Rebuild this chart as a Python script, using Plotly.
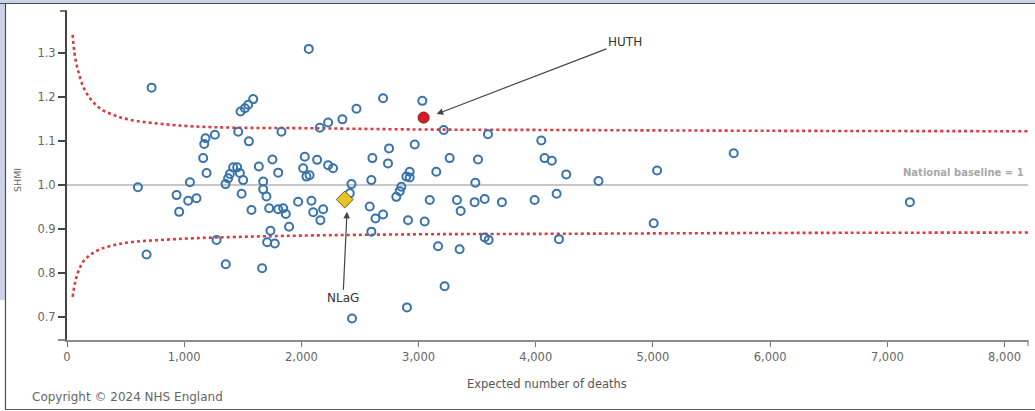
import plotly.graph_objects as go

# Trust-level SHMI against expected number of deaths
expected_deaths = [
    605, 722, 679, 935, 957, 1034, 1049, 1105, 1162, 1171,
    1182, 1262, 1191, 1276, 1353, 1355, 1375, 1390, 1418, 1452,
    1475, 1503, 1461, 1481, 1518, 1546, 1589, 1552, 1490, 1574,
    1637, 1674, 1674, 1702, 1725, 1753, 1802, 1802, 1845, 1867,
    1830, 1895, 1736, 1708, 1773, 1665, 1972, 2086, 2101, 2186,
    2162, 2015, 2029, 2043, 2070, 2063, 2134, 2157, 2228, 2228,
    2270, 2350, 2470, 2427, 2413, 2432, 2597, 2606, 2583, 2632,
    2697, 2597, 2697, 2739, 2748, 2810, 2839, 2853, 2896, 2924,
    2924, 2910, 2901, 2967, 3032, 3052, 3095, 3151, 3166, 3214,
    3222, 3265, 3327, 3359, 3350, 3478, 3484, 3507, 3564, 3564,
    3598, 3592, 3711, 3990, 4047, 4075, 4137, 4178, 4198, 4260,
    4535, 5006, 5035, 5689, 7192,
]
shmi = [
    0.995, 1.221, 0.842, 0.977, 0.939, 0.964, 1.006, 0.970, 1.061, 1.093,
    1.106, 1.114, 1.027, 0.875, 1.002, 0.820, 1.015, 1.025, 1.040, 1.040,
    1.027, 1.011, 1.121, 1.167, 1.174, 1.182, 1.195, 1.099, 0.980, 0.943,
    1.042, 1.008, 0.990, 0.974, 0.947, 1.058, 1.028, 0.945, 0.947, 0.934,
    1.121, 0.905, 0.896, 0.870, 0.867, 0.811, 0.962, 0.964, 0.938, 0.945,
    0.920, 1.038, 1.064, 1.019, 1.022, 1.309, 1.057, 1.130, 1.142, 1.045,
    1.038, 1.149, 1.173, 1.002, 0.981, 0.697, 1.011, 1.061, 0.951, 0.924,
    0.933, 0.894, 1.197, 1.049, 1.083, 0.973, 0.986, 0.996, 1.019, 1.030,
    1.017, 0.920, 0.722, 1.092, 1.191, 0.917, 0.966, 1.030, 0.861, 1.125,
    0.770, 1.061, 0.966, 0.941, 0.854, 0.961, 1.005, 1.058, 0.968, 0.881,
    0.875, 1.115, 0.961, 0.966, 1.101, 1.061, 1.055, 0.980, 0.877, 1.024,
    1.009, 0.913, 1.033, 1.072, 0.961,
]

# Highlighted trusts
huth_expected, huth_shmi = 3043, 1.153
nlag_expected, nlag_shmi = 2370, 0.967

# 95% control limits (overdispersed funnel)
limit_expected = [48, 68, 96, 139, 196, 281, 395, 537, 793, 1077, 1447, 1990, 3000, 4000, 6000, 8200]
upper_limit = [1.341, 1.292, 1.258, 1.223, 1.197, 1.174, 1.159, 1.148, 1.139, 1.133, 1.130, 1.129, 1.126, 1.125, 1.123, 1.122]
lower_limit = [0.746, 0.777, 0.803, 0.826, 0.841, 0.854, 0.863, 0.870, 0.875, 0.879, 0.882, 0.885, 0.888, 0.889, 0.891, 0.892]

baseline = 1.0
x_ticks = [0, 1000, 2000, 3000, 4000, 5000, 6000, 7000, 8000]
x_tick_labels = ["0", "1,000", "2,000", "3,000", "4,000", "5,000", "6,000", "7,000", "8,000"]
y_ticks = [0.7, 0.8, 0.9, 1.0, 1.1, 1.2, 1.3]
y_tick_labels = ["0.7", "0.8", "0.9", "1.0", "1.1", "1.2", "1.3"]

W, H = 1035, 411
ML, MR, MT, MB = 67, 7, 11, 71
PW, PH = W - ML - MR, H - MT - MB


def px(x):
    return (x - ML) / PW


def py(y):
    return (H - MB - y) / PH


FONT = "DejaVu Sans, Liberation Sans, Arial, sans-serif"
LIMIT_COLOR = "#dd3a3f"

fig = go.Figure()

for ys in (upper_limit, lower_limit):
    fig.add_trace(go.Scatter(
        x=limit_expected, y=ys, mode="lines", line_shape="spline",
        line=dict(color=LIMIT_COLOR, width=2.6, dash="dot"),
        hoverinfo="skip", showlegend=False,
    ))

fig.add_trace(go.Scatter(
    x=expected_deaths, y=shmi, mode="markers",
    marker=dict(symbol="circle-open", size=8, color="#3873ad", line=dict(width=2, color="#3873ad")),
    showlegend=False,
))

fig.add_trace(go.Scatter(
    x=[huth_expected], y=[huth_shmi], mode="markers",
    marker=dict(symbol="circle", size=11, color="#d71d24", line=dict(width=1, color="#8a1015")),
    showlegend=False,
))
fig.add_trace(go.Scatter(
    x=[nlag_expected], y=[nlag_shmi], mode="markers",
    marker=dict(symbol="diamond", size=13, color="#e9c227", line=dict(width=1, color="#6f5d1a")),
    showlegend=False,
))

shapes = [
    # national baseline
    dict(type="line", xref="x", yref="y", x0=0, x1=8200, y0=baseline, y1=baseline,
         line=dict(color="#b4b4b4", width=1.5), layer="below"),
    # outer frame bands and border
    dict(type="rect", xref="paper", yref="paper", x0=px(0), x1=px(W), y0=py(0), y1=py(3),
         fillcolor="#cad2e4", line=dict(width=0), layer="below"),
    dict(type="rect", xref="paper", yref="paper", x0=px(0), x1=px(5), y0=py(0), y1=py(300),
         fillcolor="#cad2e4", line=dict(width=0), layer="below"),
    dict(type="line", xref="paper", yref="paper", x0=px(0), x1=px(W), y0=py(3.5), y1=py(3.5),
         line=dict(color="#4a4f5a", width=1.2)),
    dict(type="line", xref="paper", yref="paper", x0=px(5.5), x1=px(5.5), y0=py(3), y1=py(410),
         line=dict(color="#4a4f5a", width=1.2)),
    dict(type="line", xref="paper", yref="paper", x0=px(5), x1=px(W), y0=py(409.5), y1=py(409.5),
         line=dict(color="#5a5f68", width=1.2)),
    # axis end caps
    dict(type="line", xref="paper", yref="paper", x0=px(60), x1=px(67), y0=1, y1=1,
         line=dict(color="#444", width=1.5)),
    dict(type="line", xref="paper", yref="paper", x0=px(58), x1=px(67), y0=0, y1=0,
         line=dict(color="#666", width=1.5)),
    dict(type="line", xref="paper", yref="paper", x0=1, x1=1, y0=0, y1=py(346),
         line=dict(color="#888", width=1.2)),
]

annotations = [
    dict(x=3154, y=1.161, ax=4761, ay=1.325, xref="x", yref="y", axref="x", ayref="y",
         text="HUTH", showarrow=True, arrowhead=2, arrowsize=1.1, arrowwidth=1.2,
         arrowcolor="#444", font=dict(family=FONT, size=12, color="#333")),
    dict(x=2389, y=0.939, ax=2355, ay=0.743, xref="x", yref="y", axref="x", ayref="y",
         text="NLaG", showarrow=True, arrowhead=2, arrowsize=1.1, arrowwidth=1.2,
         arrowcolor="#444", font=dict(family=FONT, size=12, color="#333")),
    dict(x=px(1026), y=py(172), xref="paper", yref="paper", xanchor="right", yanchor="middle",
         text="<b>National baseline = 1</b>", showarrow=False,
         font=dict(family=FONT, size=10, color="#a8a8a8")),
    dict(x=px(547), y=py(384), xref="paper", yref="paper", xanchor="center", yanchor="middle",
         text="Expected number of deaths", showarrow=False,
         font=dict(family=FONT, size=11.5, color="#555")),
    dict(x=px(18), y=py(180), xref="paper", yref="paper", xanchor="center", yanchor="middle",
         text="SHMI", textangle=-90, showarrow=False,
         font=dict(family=FONT, size=9.5, color="#666")),
    dict(x=px(30), y=py(397), xref="paper", yref="paper", xanchor="left", yanchor="middle",
         text="Copyright © 2024 NHS England", showarrow=False,
         font=dict(family=FONT, size=12, color="#666")),
]

fig.update_layout(
    width=W, height=H,
    margin=dict(l=ML, r=MR, t=MT, b=MB, pad=0),
    paper_bgcolor="white", plot_bgcolor="white",
    shapes=shapes, annotations=annotations,
    xaxis=dict(
        range=[0, 8200], tickvals=x_ticks, ticktext=x_tick_labels,
        showgrid=False, zeroline=False, showline=True, linecolor="#8c8c8c", linewidth=1.5,
        ticks="outside", ticklen=5, tickcolor="#777", tickwidth=1.2,
        tickfont=dict(family=FONT, size=11.5, color="#666"),
    ),
    yaxis=dict(
        range=[0.648, 1.395], tickvals=y_ticks, ticktext=y_tick_labels,
        showgrid=False, zeroline=False, showline=True, linecolor="#444", linewidth=2,
        ticks="outside", ticklen=7, tickcolor="#444", tickwidth=1.5,
        tickfont=dict(family=FONT, size=11.5, color="#666"),
    ),
    hovermode="closest",
)

fig.write_html("out.html")
